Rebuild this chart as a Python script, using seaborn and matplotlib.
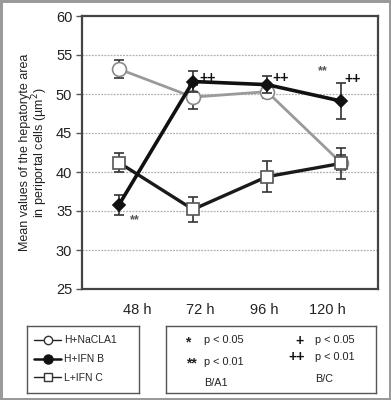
import matplotlib
matplotlib.use("Agg")
import matplotlib.pyplot as plt
from matplotlib.lines import Line2D
import seaborn as sns
import pandas as pd
import numpy as np

# ---- data ----
times = ["48 h", "72 h", "96 h", "120 h"]
series = ["H+NaCLA1", "H+IFN B", "L+IFN C"]
mean_a1 = [53.2, 49.6, 50.3, 41.2]
err_a1 = [1.2, 1.5, 0.8, 1.0]
mean_b = [35.8, 51.6, 51.2, 49.1]
err_b = [1.3, 1.4, 1.1, 2.3]
mean_c = [41.2, 35.2, 39.4, 41.1]
err_c = [1.2, 1.6, 2.0, 1.95]
y_ticks = [25, 30, 35, 40, 45, 50, 55, 60]
grid_vals = [30, 35, 40, 45, 50, 55]

# significance marks: (time index, symbol, kind)
sig_marks = [(0, "**", "BA1"), (1, "++", "BC"), (2, "++", "BC"), (3, "**", "BA1"), (3, "++", "BC")]

sns.set_style("white")
plt.rcParams["font.family"] = ["Liberation Sans", "DejaVu Sans"]

fig = plt.figure(figsize=(3.91, 4.0), dpi=100, facecolor="white",
                 edgecolor="#9a9a9a", linewidth=2.5)
ax = fig.add_axes([82 / 391, 1 - 289 / 400, (378 - 82) / 391, (289 - 16) / 400])

x = np.arange(len(times))
df = pd.DataFrame({
    "t": np.tile(x, 3),
    "v": mean_a1 + mean_b + mean_c,
    "s": np.repeat(series, len(times)),
})

styles = {
    "H+NaCLA1": dict(color="#9a9a9a", lw=2.0, marker="o", ms=10, mfc="white", mec="#8a8a8a", z=3),
    "L+IFN C": dict(color="#1a1a1a", lw=2.4, marker="s", ms=9, mfc="white", mec="#555555", z=4),
    "H+IFN B": dict(color="#111111", lw=2.6, marker="D", ms=6.5, mfc="#111111", mec="#111111", z=5),
}
errs = {"H+NaCLA1": (mean_a1, err_a1), "H+IFN B": (mean_b, err_b), "L+IFN C": (mean_c, err_c)}

for name in ["H+NaCLA1", "L+IFN C", "H+IFN B"]:
    st = styles[name]
    sub = df[df["s"] == name]
    m, e = errs[name]
    ax.errorbar(x, m, yerr=e, fmt="none", ecolor="#333333", elinewidth=1.2,
                capsize=3.5, capthick=1.2, zorder=st["z"] - 0.5)
    sns.lineplot(data=sub, x="t", y="v", ax=ax, color=st["color"], lw=st["lw"],
                 marker=st["marker"], markersize=st["ms"], markerfacecolor=st["mfc"],
                 markeredgecolor=st["mec"], markeredgewidth=1.2, zorder=st["z"],
                 legend=False)

ax.set_xlim(-0.5, len(times) - 0.5)
ax.set_ylim(25, 60)
ax.set_yticks(y_ticks)
ax.set_yticklabels([str(v) for v in y_ticks], fontsize=10.5, color="#222222")
ax.set_xticks([])
ax.set_xlabel("")
ax.set_ylabel("Mean values of the hepatoryte area\nin periportal cells (µm$^2$)",
              fontsize=9, color="#222222", labelpad=4, linespacing=1.0)
ax.tick_params(axis="y", direction="out", length=4, width=1, color="#555555", left=True, pad=3)
for gv in grid_vals:
    ax.axhline(gv, color="#b0b0b0", lw=0.9, ls=(0, (1.5, 1)), zorder=0.5)
for side, sp in ax.spines.items():
    sp.set_visible(True)
    sp.set_color("#444444")
    sp.set_linewidth(1.6)

# x category labels (offset, as in original)
label_px = [137, 200, 264, 327]
for lbl, px in zip(times, label_px):
    fig.text(px / 391, 1 - 310 / 400, lbl, ha="center", va="center", fontsize=10.5, color="#222222")

# significance annotations
offsets = {(0, "BA1"): (0.22, -1.95), (1, "BC"): (0.2, 0.4), (2, "BC"): (0.18, 0.8),
           (3, "BA1"): (-0.25, 3.8), (3, "BC"): (0.16, 2.8)}
means_for = {"BA1": mean_b, "BC": mean_b}
for ti, sym, kind in sig_marks:
    dx, dy = offsets[(ti, kind)]
    if kind == "BA1":
        ax.text(ti + dx, means_for[kind][ti] + dy, sym, ha="center", va="center",
                fontsize=9, color="#555555", fontweight="bold", zorder=6)
    else:
        ax.text(ti + dx, means_for[kind][ti] + dy, sym, ha="center", va="center",
                fontsize=10, color="#111111", fontweight="bold", zorder=6)

# legend box (left)
lax = fig.add_axes([27 / 391, 1 - 392.7 / 400, (139 - 27) / 391, (392.7 - 325.7) / 400])
lax.set_xticks([]); lax.set_yticks([])
for sp in lax.spines.values():
    sp.set_color("#555555"); sp.set_linewidth(1.0)
handles = [
    Line2D([], [], color="#222222", lw=1.0, marker="o", ms=6, mfc="white", mec="#333333"),
    Line2D([], [], color="#111111", lw=1.8, marker="o", ms=6.5, mfc="#111111", mec="#111111"),
    Line2D([], [], color="#222222", lw=1.0, marker="s", ms=6, mfc="white", mec="#333333"),
]
lax.legend(handles, series, loc="center left", frameon=False, fontsize=7.5,
           handlelength=2.6, handletextpad=0.25, labelspacing=0.85,
           borderaxespad=0.3, bbox_to_anchor=(0.0, 0.5))

# significance key box (right)
kax = fig.add_axes([165.7 / 391, 1 - 392.7 / 400, (376 - 165.7) / 391, (392.7 - 325.7) / 400])
kax.set_xticks([]); kax.set_yticks([])
kax.set_xlim(165.7, 376); kax.set_ylim(392.7, 325.7)
for sp in kax.spines.values():
    sp.set_color("#555555"); sp.set_linewidth(1.0)
fs = 7.8
kax.text(188, 342, "*", ha="center", va="center", fontsize=10, fontweight="bold", color="#222222")
kax.text(204, 340, "p < 0.05", ha="left", va="center", fontsize=fs, color="#222222")
kax.text(191, 363, "**", ha="center", va="center", fontsize=10, fontweight="bold", color="#222222")
kax.text(204, 362, "p < 0.01", ha="left", va="center", fontsize=fs, color="#222222")
kax.text(204, 383, "B/A1", ha="left", va="center", fontsize=fs, color="#222222")
kax.text(299, 341, "+", ha="center", va="center", fontsize=10, fontweight="bold", color="#111111")
kax.text(315, 340, "p < 0.05", ha="left", va="center", fontsize=fs, color="#222222")
kax.text(297, 357, "++", ha="center", va="center", fontsize=10, fontweight="bold", color="#111111")
kax.text(315, 357, "p < 0.01", ha="left", va="center", fontsize=fs, color="#222222")
kax.text(315, 379, "B/C", ha="left", va="center", fontsize=fs, color="#222222")

fig.savefig("out.png", dpi=100)
